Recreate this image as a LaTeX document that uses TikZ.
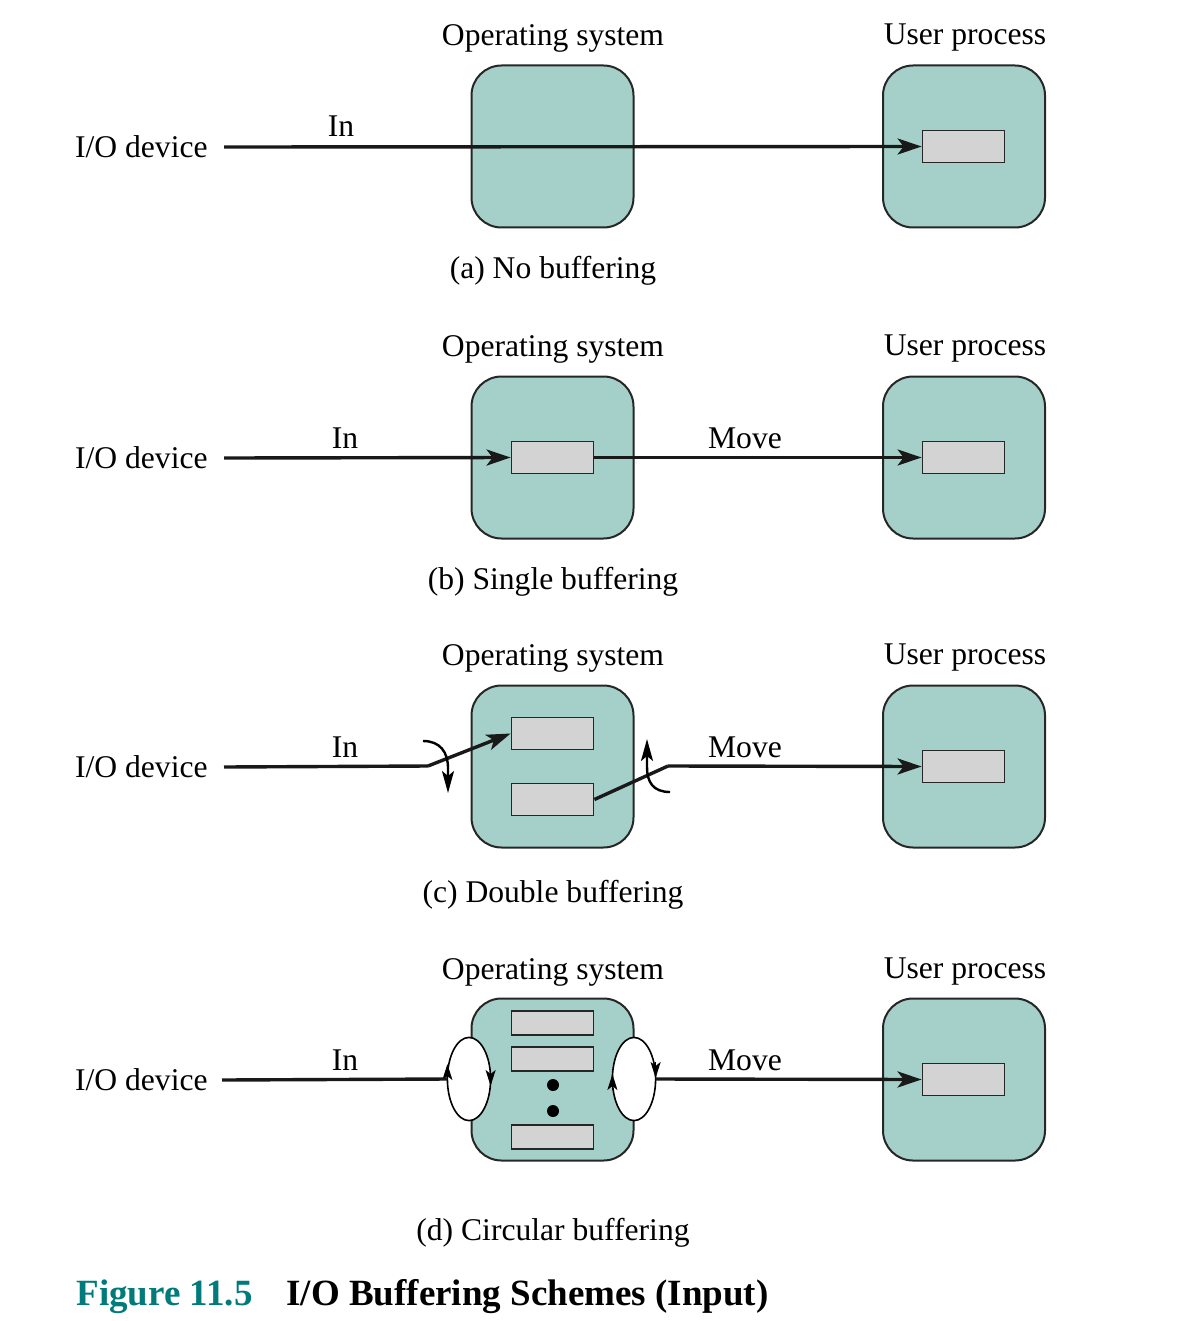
\documentclass[tikz,border=0pt]{standalone}
\usepackage{fontspec}
\setmainfont{Liberation Serif}
\usetikzlibrary{arrows.meta}
\definecolor{osfill}{HTML}{A4D0C9}
\definecolor{buffill}{HTML}{D3D3D3}
\definecolor{figteal}{RGB}{0,122,122}
\tikzset{
	procbox/.style={draw=black!85, line width=1pt, fill=osfill, rounded corners=15pt, minimum width=81pt, minimum height=81pt, inner sep=0pt},
	buf/.style={draw=black!85, line width=0.9pt, fill=buffill, minimum width=41pt, minimum height=16pt, inner sep=0pt},
	smallbuf/.style={buf, minimum height=12pt},
	wire/.style={line width=1.7pt, black!90},
	flow/.style={wire, -{Stealth[length=12pt, width=8pt, inset=3pt]}},
	turn/.style={line width=1.2pt, black, -{Stealth[length=11pt, width=6pt, inset=2.5pt]}},
	lbl/.style={font=\fontsize{15.8}{19}\selectfont, inner sep=0pt},
	ring/.style={draw=black, line width=0.8pt, fill=white},
	ringtip/.style={line width=0.8pt, black, -{Stealth[length=8pt, width=5pt, inset=2pt]}},
}
\begin{document}
\begin{tikzpicture}[x=0.5pt, y=-0.5pt]
	\useasboundingbox (0,0) rectangle (1192,1321);
	% (a) no buffering
	\node[lbl] (os-a-lbl) at (553,38) {Operating system};
	\node[lbl] (up-a-lbl) at (965,38) {User process};
	\node[procbox] (os-a) at (552.5,146.5) {};
	\node[procbox] (up-a) at (964,146.5) {};
	\node[buf] (ubuf-a) at (963.5,146.5) {};
	\node[lbl, anchor=east] (dev-a) at (208,147) {I/O device};
	\node[lbl] (in-a) at (341,126) {In};
	\draw[flow] ([xshift=8pt]dev-a.east) -- (ubuf-a.west);
	\node[lbl] (cap-a) at (553,271) {(a) No buffering};
	% (b) single buffering
	\node[lbl] (os-b-lbl) at (553,349) {Operating system};
	\node[lbl] (up-b-lbl) at (965,349) {User process};
	\node[procbox] (os-b) at (552.5,457.5) {};
	\node[procbox] (up-b) at (964,457.5) {};
	\node[buf] (obuf-b) at (552.5,457.5) {};
	\node[buf] (ubuf-b) at (963.5,457.5) {};
	\node[lbl, anchor=east] (dev-b) at (208,458) {I/O device};
	\node[lbl] (in-b) at (345,438) {In};
	\node[lbl] (mv-b) at (745,438) {Move};
	\draw[flow] ([xshift=8pt]dev-b.east) -- (obuf-b.west);
	\draw[flow] (obuf-b.east) -- (ubuf-b.west);
	\node[lbl] (cap-b) at (553,582) {(b) Single buffering};
	% (c) double buffering
	\node[lbl] (os-c-lbl) at (553,658) {Operating system};
	\node[lbl] (up-c-lbl) at (965,658) {User process};
	\node[procbox] (os-c) at (552.5,766.5) {};
	\node[procbox] (up-c) at (964,766.5) {};
	\node[buf] (obuf-c1) at (552.5,733.5) {};
	\node[buf] (obuf-c2) at (552.5,799.5) {};
	\node[buf] (ubuf-c) at (963.5,766.5) {};
	\node[lbl, anchor=east] (dev-c) at (208,767) {I/O device};
	\node[lbl] (in-c) at (345,747) {In};
	\node[lbl] (mv-c) at (745,747) {Move};
	\coordinate (swl) at (428,766);
	\coordinate (swr) at (668,766);
	\draw[wire] ([xshift=8pt]dev-c.east) -- (swl);
	\draw[flow] (swl) -- (obuf-c1.west);
	\draw[wire] (obuf-c2.east) -- (swr);
	\draw[flow] (swr) -- (ubuf-c.west);
	\draw[turn] (423,741) .. controls (440,741) and (448,752) .. (448,768) -- (448,793);
	\draw[turn] (670,792) .. controls (653,792) and (647,782) .. (647,767) -- (647,739);
	\node[lbl] (cap-c) at (553,895) {(c) Double buffering};
	% (d) circular buffering
	\node[lbl] (os-d-lbl) at (553,972) {Operating system};
	\node[lbl] (up-d-lbl) at (965,972) {User process};
	\node[procbox] (os-d) at (552.5,1079.5) {};
	\node[procbox] (up-d) at (964,1079.5) {};
	\node[smallbuf] (obuf-d1) at (552.5,1023) {};
	\node[smallbuf] (obuf-d2) at (552.5,1059) {};
	\node[smallbuf] (obuf-d3) at (552.5,1137) {};
	\fill (553,1085) circle(3pt);
	\fill (553,1111) circle(3pt);
	\node[buf] (ubuf-d) at (963.5,1079.5) {};
	\coordinate (ringl) at (469,1079);
	\coordinate (ringr) at (634,1079);
	\draw[ring] (ringl) ellipse[x radius=10.8pt, y radius=20.8pt];
	\draw[ring] (ringr) ellipse[x radius=10.8pt, y radius=20.8pt];
	\draw[ringtip] (447.4,1080) -- (447.4,1064);
	\draw[ringtip] (490.6,1070) -- (490.6,1086);
	\draw[ringtip] (612.4,1090) -- (612.4,1074);
	\draw[ringtip] (655.6,1062) -- (655.6,1078);
	\node[lbl, anchor=east] (dev-d) at (208,1080) {I/O device};
	\node[lbl] (in-d) at (345,1060) {In};
	\node[lbl] (mv-d) at (745,1060) {Move};
	\draw[wire] ([xshift=7pt]dev-d.east) -- ([xshift=-10.8pt]ringl);
	\draw[flow] ([xshift=10.8pt]ringr) -- (ubuf-d.west);
	\node[lbl] (cap-d) at (553,1233) {(d) Circular buffering};
	% figure caption
	\node[anchor=base west, inner sep=0pt, font=\fontsize{18.5}{22}\selectfont\bfseries, text=figteal] (fig-num) at (76,1305) {Figure 11.5};
	\node[anchor=base west, inner sep=0pt, font=\fontsize{18.5}{22}\selectfont\bfseries] (fig-title) at (286,1305) {I/O Buffering Schemes (Input)};
\end{tikzpicture}
\end{document}
